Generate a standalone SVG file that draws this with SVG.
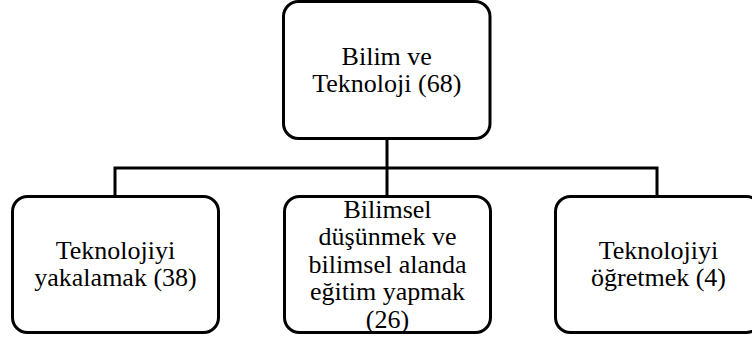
<svg xmlns="http://www.w3.org/2000/svg" width="752" height="340" viewBox="0 0 752 340">
<style>
.box{fill:#fff;stroke:#000;stroke-width:3}
.lbl{font-family:"Liberation Serif","Times New Roman",serif;font-size:26px;fill:#000;text-anchor:middle}
.con{fill:none;stroke:#000;stroke-width:3}
</style>
<rect width="752" height="340" fill="#fff"/>
<g id="connectors">
<path class="con" d="M387 139 V196.5"/>
<path class="con" d="M115 196.5 V168 H657 V196.5"/>
</g>
<g id="root">
<rect class="box" x="283.5" y="1.5" width="206.5" height="137" rx="15"/>
<text class="lbl" x="386.75" y="64.5">Bilim ve</text>
<text class="lbl" x="386.75" y="92">Teknoloji (68)</text>
</g>
<g id="node-yakalamak">
<rect class="box" x="12.5" y="196.5" width="206" height="136" rx="15"/>
<text class="lbl" x="115.5" y="258.5">Teknolojiyi</text>
<text class="lbl" x="115.5" y="286">yakalamak (38)</text>
</g>
<g id="node-bilimsel">
<rect class="box" x="284.5" y="196.5" width="206" height="136" rx="15"/>
<text class="lbl" x="387.5" y="217.5">Bilimsel</text>
<text class="lbl" x="387.5" y="245">düşünmek ve</text>
<text class="lbl" x="387.5" y="272.5">bilimsel alanda</text>
<text class="lbl" x="387.5" y="300">eğitim yapmak</text>
<text class="lbl" x="387.5" y="327.5">(26)</text>
</g>
<g id="node-ogretmek">
<rect class="box" x="555.5" y="196.5" width="206" height="136" rx="15"/>
<text class="lbl" x="658.5" y="258.5">Teknolojiyi</text>
<text class="lbl" x="658.5" y="286">öğretmek (4)</text>
</g>
</svg>
